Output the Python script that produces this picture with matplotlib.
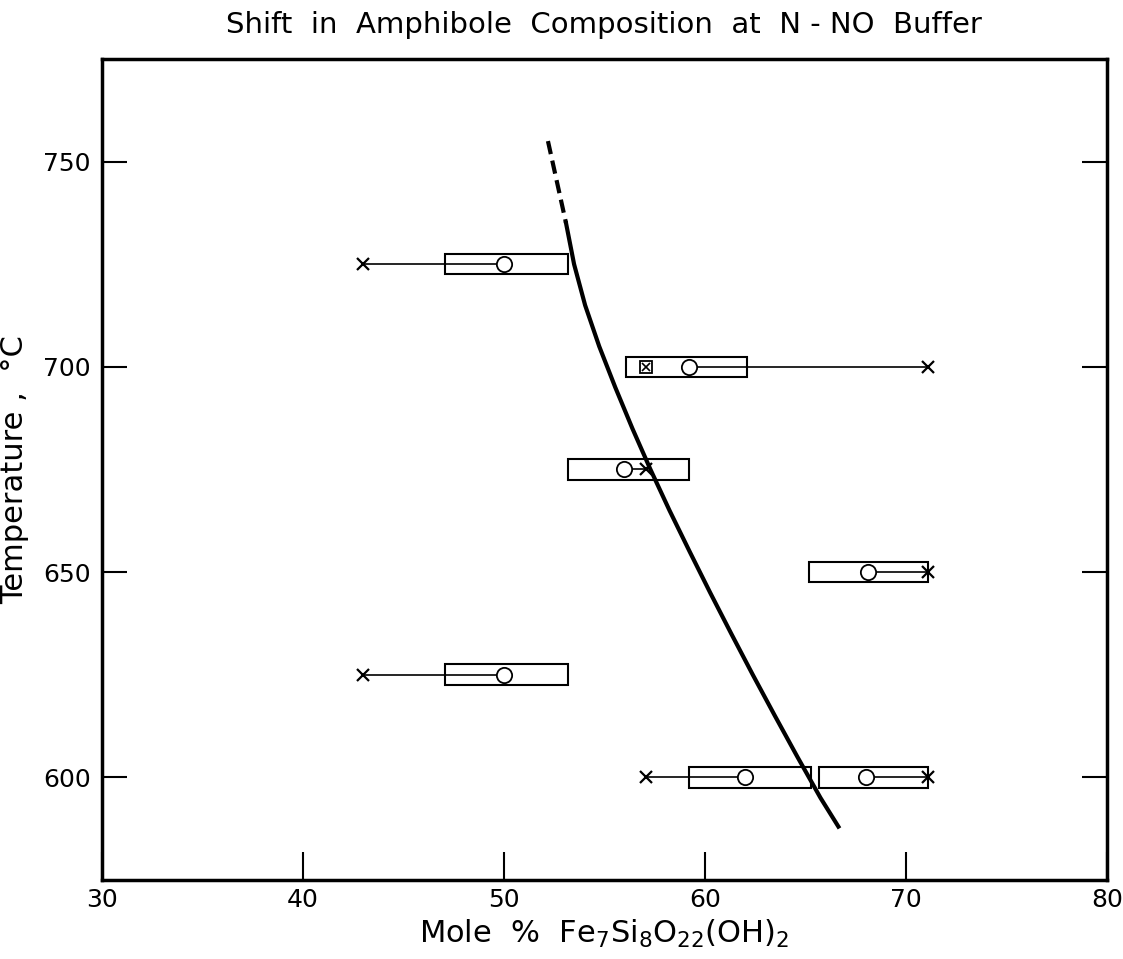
import matplotlib.pyplot as plt
from matplotlib.patches import Rectangle

# experiment rows: temperature, box (product range), circle (product), x (starting comp)
temps = [725, 700, 675, 650, 625, 600, 600]
box_lo = [47.1, 56.1, 53.2, 65.2, 47.1, 59.2, 65.7]
box_hi = [53.2, 62.1, 59.2, 71.1, 53.2, 65.3, 71.1]
circle_x = [50, 59.2, 56, 68.1, 50, 62, 68]
cross_x = [43, 71.1, 57.1, 71.1, 43, 57.1, 71.1]
box_half = 2.5

# crossed square marker at 700 C
sq_x = [57.1]
sq_t = [700]

# boundary curve
curve_dash_x = [52.2, 53.1]
curve_dash_t = [755, 735]
curve_x = [53.1, 53.5, 54.05, 54.75, 55.55, 56.4, 57.3, 58.25, 59.25,
           60.27, 61.32, 62.39, 63.49, 64.61, 65.76, 66.65]
curve_t = [735, 725, 715, 705, 695, 685, 675, 665, 655,
           645, 635, 625, 615, 605, 595, 588]

xticks = [30, 40, 50, 60, 70, 80]
yticks = [600, 650, 700, 750]

plt.rcParams["font.family"] = ["DejaVu Sans"]

fig = plt.figure(figsize=(11.23, 9.59), dpi=100)
ax = fig.add_axes([0.0906, 0.0824, 0.8949, 0.8561])

for t, lo, hi, cx, xx in zip(temps, box_lo, box_hi, circle_x, cross_x):
    ax.add_patch(Rectangle((lo, t - box_half), hi - lo, 2 * box_half,
                           fill=False, edgecolor="black", linewidth=1.5))
    ax.plot([cx, xx], [t, t], color="black", linewidth=1.2)
    ax.plot(xx, t, marker="x", color="black", markersize=9, markeredgewidth=1.6)
    ax.plot(cx, t, marker="o", color="black", markerfacecolor="white",
            markersize=11, markeredgewidth=1.3)

ax.plot(sq_x, sq_t, marker="s", color="black", markerfacecolor="white",
        markersize=8, markeredgewidth=1.3, linestyle="none")
ax.plot(sq_x, sq_t, marker="x", color="black", markersize=6,
        markeredgewidth=1.2, linestyle="none")

ax.plot(curve_dash_x, curve_dash_t, color="black", linewidth=3,
        linestyle=(0, (3.2, 1.6)))
ax.plot(curve_x, curve_t, color="black", linewidth=3, solid_joinstyle="round")

ax.set_xlim(30, 80)
ax.set_ylim(575, 775)
ax.set_xticks(xticks)
ax.set_yticks(yticks)
ax.tick_params(axis="x", direction="in", length=20, width=1.5, labelsize=18, pad=6)
ax.tick_params(axis="y", direction="in", length=18, width=1.5, labelsize=18,
               right=True, pad=8)
for s in ax.spines.values():
    s.set_linewidth(2.5)

ax.set_xlabel("Mole  %  Fe$_7$Si$_8$O$_{22}$(OH)$_2$", fontsize=22, labelpad=4)
ax.set_ylabel("Temperature ,  °C", fontsize=22, labelpad=10)
ax.set_title("Shift  in  Amphibole  Composition  at  N - NO  Buffer",
             fontsize=21, pad=19)

fig.savefig("out.png", dpi=100)
